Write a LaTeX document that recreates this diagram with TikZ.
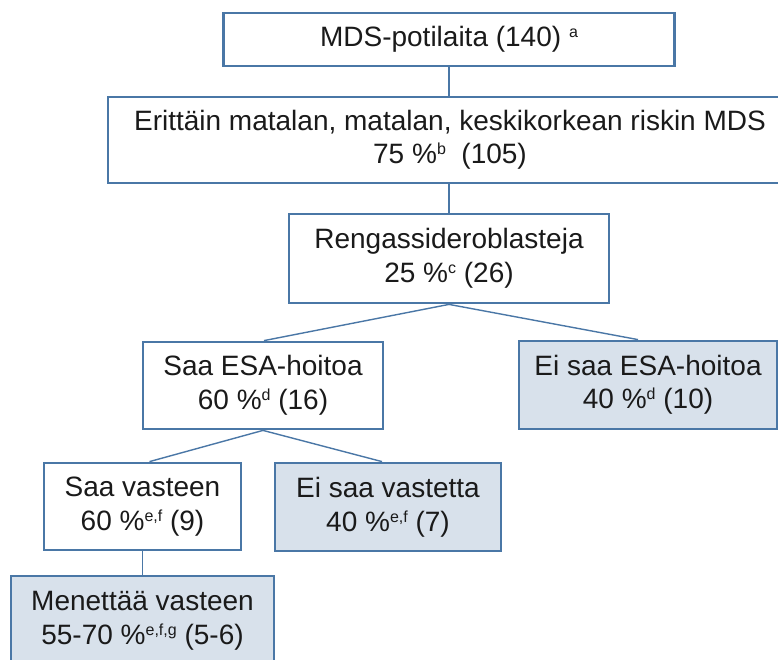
\documentclass[tikz,border=0pt]{standalone}
\usepackage{fontspec}
\setmainfont{Liberation Sans}
\definecolor{bordc}{HTML}{4A77A6}
\definecolor{fillc}{HTML}{D8E1EB}
\definecolor{txtc}{HTML}{1A1A1A}
\newcommand{\sups}[1]{\raisebox{9pt}{\fontsize{16}{16}\selectfont #1}}
\begin{document}
\begin{tikzpicture}[x=1pt,y=-1pt,
  box/.style={draw=bordc,line width=2.8pt,fill=white,rectangle,inner sep=0pt,
    align=center,text=txtc,font=\fontsize{28}{33.5}\selectfont},
  shaded/.style={box,fill=fillc},
  link/.style={draw=bordc,line width=1.4pt}]
\useasboundingbox (0,0) rectangle (778,660);
\clip (0,0) rectangle (778,660);
\fill[white] (0,0) rectangle (778,660);
\node[box,minimum width=451pt,minimum height=53pt] (b1) at (449,39.5) {MDS-potilaita (140) \sups{a}};
\node[box,minimum width=684pt,minimum height=86pt] (b2) at (450,140) {Erittäin matalan, matalan, keskikorkean riskin MDS\\75 \%\sups{b}\ \ (105)};
\node[box,minimum width=320pt,minimum height=89pt] (b3) at (449,258.5) {Rengassideroblasteja\\25 \%\sups{c} (26)};
\node[box,minimum width=240pt,minimum height=87pt] (b4) at (263,385.5) {Saa ESA-hoitoa\\60 \%\sups{d} (16)};
\node[shaded,minimum width=258pt,minimum height=88pt] (b5) at (648,385) {Ei saa ESA-hoitoa\\40 \%\sups{d} (10)};
\node[box,minimum width=197pt,minimum height=87pt] (b6) at (142.5,506.5) {Saa vasteen\\60 \%\sups{e,f} (9)};
\node[shaded,minimum width=226pt,minimum height=88pt] (b7) at (388,507) {Ei saa vastetta\\40 \%\sups{e,f} (7)};
\node[shaded,minimum width=263pt,minimum height=90pt] (b8) at (142.5,621) {Menettää vasteen\\55-70 \%\sups{e,f,g} (5-6)};
\draw[link] (b1.south) -- (b1.south |- b2.north);
\draw[link] (b3.north |- b2.south) -- (b3.north);
\draw[link] (b3.south) -- ([xshift=1pt]b4.north);
\draw[link] (b3.south) -- ([xshift=-10pt]b5.north);
\draw[link] (b4.south) -- ([xshift=7pt]b6.north);
\draw[link] (b4.south) -- ([xshift=-6pt]b7.north);
\draw[link] (b6.south) -- (b8.north);
\end{tikzpicture}
\end{document}
